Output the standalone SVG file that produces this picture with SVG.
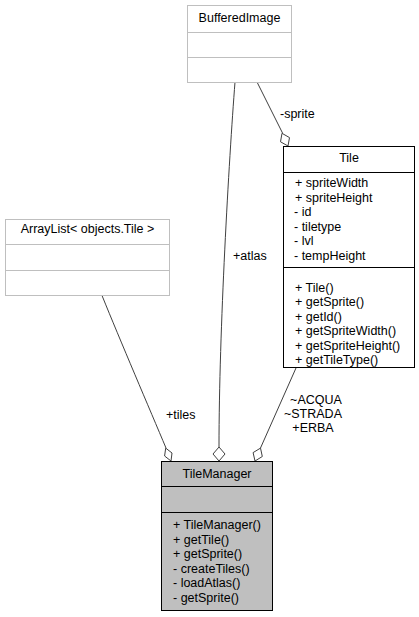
<svg xmlns="http://www.w3.org/2000/svg" width="419" height="617" viewBox="0 0 419 617">
<style>
text{font-family:"Liberation Sans",Arial,sans-serif;font-size:12.5px;fill:#000}
.c{text-anchor:middle}
.ext{fill:#fff;stroke:#bfbfbf;stroke-width:1}
.ext-l{stroke:#bfbfbf;stroke-width:1}
.cls{fill:#fff;stroke:#000;stroke-width:1}
.main{fill:#bfbfbf;stroke:#000;stroke-width:1}
.l{stroke:#000;stroke-width:1}
.edge{fill:none;stroke:#404040;stroke-width:1}
.dia{fill:#fff;stroke:#404040;stroke-width:1}
</style>
<rect width="419" height="617" fill="#fff"/>
<g id="connectors">
<path class="edge" d="M102,295.5 C120,340 150,410 166,448"/>
<path class="dia" d="M171,461 L172,453 L165.7,448.1 L164.6,456 Z"/>
<text x="166" y="418.5">+tiles</text>
<path class="edge" d="M235,82 C229,160 219,330 219,447"/>
<path class="dia" d="M219,461 L225,454 L219,447 L213,454 Z"/>
<text x="233" y="259.5">+atlas</text>
<path class="edge" d="M257,82 L282.5,133"/>
<path class="dia" d="M288,146 L289.5,137.6 L282,133.3 L280.5,141.8 Z"/>
<text x="280" y="117.5">-sprite</text>
<path class="edge" d="M296,368 L260.5,448"/>
<path class="dia" d="M255,461 L262.3,456.5 L260.5,448.1 L253.1,452.6 Z"/>
<text class="c" x="316" y="404">~ACQUA</text>
<text class="c" x="313" y="417.5">~STRADA</text>
<text class="c" x="313" y="432">+ERBA</text>
</g>
<g id="BufferedImage">
<rect class="ext" x="187.5" y="5.5" width="104" height="77"/>
<line class="ext-l" x1="187.5" y1="32.5" x2="291.5" y2="32.5"/>
<line class="ext-l" x1="187.5" y1="57.5" x2="291.5" y2="57.5"/>
<text class="c" x="239.5" y="21.5">BufferedImage</text>
</g>
<g id="ArrayList">
<rect class="ext" x="5.5" y="219.5" width="164" height="76"/>
<line class="ext-l" x1="5.5" y1="244.5" x2="169.5" y2="244.5"/>
<line class="ext-l" x1="5.5" y1="270.5" x2="169.5" y2="270.5"/>
<text class="c" x="87.5" y="232.5">ArrayList&lt; objects.Tile &gt;</text>
</g>
<g id="Tile">
<rect class="cls" x="283.5" y="146.5" width="131" height="221"/>
<line class="l" x1="283.5" y1="172.5" x2="414.5" y2="172.5"/>
<line class="l" x1="283.5" y1="267.5" x2="414.5" y2="267.5"/>
<text class="c" x="349" y="161.5">Tile</text>
<text x="295" y="187">+ spriteWidth</text>
<text x="295" y="201.5">+ spriteHeight</text>
<text x="294" y="216">- id</text>
<text x="294" y="230.5">- tiletype</text>
<text x="294" y="245">- lvl</text>
<text x="294" y="259.5">- tempHeight</text>
<text x="295" y="291.5">+ Tile()</text>
<text x="295" y="306">+ getSprite()</text>
<text x="295" y="320.5">+ getId()</text>
<text x="295" y="335">+ getSpriteWidth()</text>
<text x="295" y="349.5">+ getSpriteHeight()</text>
<text x="295" y="364">+ getTileType()</text>
</g>
<g id="TileManager">
<rect class="main" x="161.5" y="461.5" width="111" height="149"/>
<line class="l" x1="161.5" y1="486.5" x2="272.5" y2="486.5"/>
<line class="l" x1="161.5" y1="512.5" x2="272.5" y2="512.5"/>
<text class="c" x="217" y="477.5">TileManager</text>
<text x="173" y="529">+ TileManager()</text>
<text x="173" y="543.5">+ getTile()</text>
<text x="173" y="558">+ getSprite()</text>
<text x="173" y="572.5">- createTiles()</text>
<text x="173" y="587">- loadAtlas()</text>
<text x="173" y="601.5">- getSprite()</text>
</g>
</svg>
